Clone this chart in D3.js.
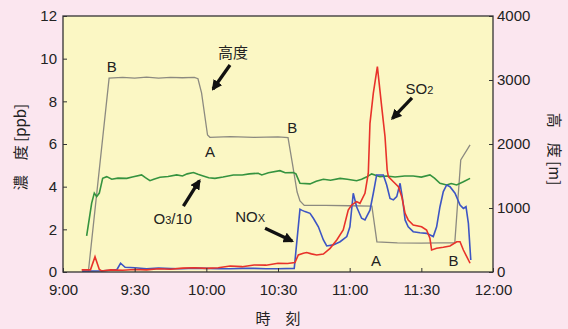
<!DOCTYPE html>
<html>
<head>
<meta charset="utf-8">
<script src="https://cdn.jsdelivr.net/npm/d3@7"></script>
<style>
  body { margin: 0; background: #fbe6ef; }
  svg { display: block; font-family: "Liberation Sans", Arial, sans-serif; }
</style>
</head>
<body>
<svg width="568" height="329"></svg>
<script>
// time = minutes after 9:00
var xTicks = [0, 30, 60, 90, 120, 150, 180];
var yLeftTicks = [0, 2, 4, 6, 8, 10, 12];
var yRightTicks = [0, 1000, 2000, 3000, 4000];

// altitude [m]
var altitude = [[10.6,0],[19.3,3030],[25,3040],[30,3030],[35,3045],[40,3030],[45,3040],[50,3035],[55,3040],[56.5,3020],
  [58,2800],[60.5,2140],[61.5,2105],[70,2115],[80,2105],[90,2110],[94.2,2100],[96,1700],[98,1250],[99.2,1110],[101,1040],
  [110,1040],[120,1035],[129.3,1030],[131.4,470],[140,455],[150,450],[158,455],[164,455],[166.5,1750],[170.4,1985]];

// O3/10 [ppb]
var o3 = [[9.9,1.69],[12,3.23],[13.1,3.7],[14.1,3.53],[15.2,3.7],[16.6,4.39],[18.3,4.47],[20.4,4.35],[23,4.4],[26.7,4.39],
  [29,4.45],[32.9,4.55],[34.5,4.42],[36.4,4.28],[38,4.35],[40.6,4.44],[44,4.48],[47.6,4.55],[50,4.5],[52,4.6],[54.6,4.66],
  [56.5,4.58],[58.7,4.5],[61,4.42],[63.6,4.39],[67,4.45],[71.3,4.55],[75,4.55],[78,4.6],[81.7,4.63],[83.2,4.55],[86,4.65],
  [90.8,4.75],[93,4.65],[96.4,4.66],[97.5,4.6],[99.2,4.16],[103.4,4.13],[106,4.25],[109,4.35],[112,4.3],[116,4.39],
  [119,4.35],[122.9,4.28],[125,4.35],[127,4.45],[129.2,4.6],[132.7,4.47],[135.5,4.5],[139,4.45],[143,4.5],[146.6,4.5],
  [150,4.45],[153.6,4.55],[155.5,4.4],[157.8,4.16],[160.6,4.08],[162.5,4.15],[164.8,4.08],[167.6,4.23],[170.4,4.39]];

// NOx [ppb]
var nox = [[8,0.04],[15,0.05],[20,0.08],[22.6,0.12],[24.1,0.41],[26,0.22],[30,0.2],[35,0.15],[40,0.18],[45,0.16],[50,0.15],
  [55,0.18],[60,0.17],[65,0.15],[70,0.15],[75,0.17],[80,0.17],[85,0.15],[90,0.15],[96.8,0.17],[99.2,2.94],[99.9,2.9],
  [101.3,2.83],[103.4,2.75],[104.8,2.52],[106.9,2.12],[109,1.5],[110.4,1.22],[113.1,1.27],[116,1.42],[118.8,1.66],
  [120.1,2.12],[121.5,3.69],[122.9,3.06],[125,2.52],[126.4,2.44],[128.5,2.9],[129.9,3.69],[131.3,4.55],[134.1,4.55],
  [135.5,4.08],[136.9,3.45],[138.3,3.38],[139.7,3.53],[141.1,4.16],[142.2,3.38],[143.2,2.44],[144.5,2.12],[146.6,1.89],
  [149.4,1.84],[152.2,1.81],[155,1.66],[156.4,2.12],[157.8,3.06],[159.2,3.77],[160.6,4.08],[162,4.0],[164.1,3.69],
  [166.2,3.14],[167.6,2.98],[168.7,3.06],[169.7,2.28],[170.7,0.56]];

// SO2 [ppb]
var so2 = [[7.8,0.1],[11.5,0.1],[13.4,0.72],[15.2,0.12],[16.2,0.05],[20,0.1],[25,0.08],[30,0.12],[35,0.1],[40,0.15],
  [45,0.13],[50,0.18],[55,0.2],[60,0.17],[65,0.2],[70,0.28],[75,0.25],[80,0.33],[85,0.32],[90,0.41],[94,0.4],[97.1,0.44],
  [98.5,0.8],[100.6,0.88],[102,0.91],[104,0.85],[106.2,0.8],[109,0.84],[111.8,1.11],[114.6,1.5],[117.3,1.97],[119.4,2.9],
  [120.8,3.14],[122.9,3.3],[124.3,3.22],[126.4,3.69],[127.8,4.63],[128.5,6.97],[129.9,8.38],[131.6,9.63],[133.4,7.75],
  [134.8,6.34],[135.7,4.78],[136.2,4.47],[138.3,4.23],[140.4,4.0],[141.8,3.53],[143.2,2.75],[144.5,2.44],[146.6,2.2],
  [150.1,2.12],[152.2,1.97],[153.6,1.58],[154.3,1.03],[156.4,1.11],[159.2,1.16],[162,1.22],[164.8,1.42],[166.2,1.42],
  [167.6,1.03],[169,0.72],[170.4,0.41]];

// text labels: [minutes, ppb, text]
var letters = [[20.4,9.63,"B"],[61.5,5.64,"A"],[96,6.78,"B"],[131,0.56,"A"],[163.5,0.56,"B"]];
// arrows: [t0, v0, t1, v1]
var arrows = [[69.9,9.7,62.8,8.58],[146.1,8.16,137.9,7.2],[50.4,3.09,57.1,4.28],[84.6,2.05,95.9,1.45]];

(function(){
var svg = d3.select("svg");
var pLeft = 63, pRight = 493, pTop = 16, pBottom = 272;
var base = new Date(2000, 0, 1, 9, 0).getTime();
function toDate(m) { return new Date(base + m * 60000); }

var x = d3.scaleTime().domain([toDate(0), toDate(180)]).range([pLeft, pRight]);
var y = d3.scaleLinear().domain([0, 12]).range([pBottom, pTop]);
var y2 = d3.scaleLinear().domain([0, 4000]).range([pBottom, pTop]);

svg.append("rect").attr("x", pLeft).attr("y", pTop).attr("width", pRight - pLeft).attr("height", pBottom - pTop)
  .attr("fill", "#fbf7c4");

var line = d3.line().x(function(d){ return x(toDate(d[0])); }).y(function(d){ return y(d[1]); });
var line2 = d3.line().x(function(d){ return x(toDate(d[0])); }).y(function(d){ return y2(d[1]); });

svg.append("path").datum(altitude).attr("d", line2).attr("fill", "none").attr("stroke", "#8c8a80").attr("stroke-width", 1.3);
svg.append("path").datum(o3).attr("d", line).attr("fill", "none").attr("stroke", "#35933f").attr("stroke-width", 1.6);
svg.append("path").datum(nox).attr("d", line).attr("fill", "none").attr("stroke", "#3d55c4").attr("stroke-width", 1.6);
svg.append("path").datum(so2).attr("d", line).attr("fill", "none").attr("stroke", "#e8322a").attr("stroke-width", 1.6);

// axes
var ax = svg.append("g").attr("transform", "translate(0," + pBottom + ")")
  .call(d3.axisBottom(x).tickValues(xTicks.map(toDate)).tickFormat(d3.timeFormat("%-H:%M")).tickSizeInner(-4).tickSizeOuter(0).tickPadding(12));
var ay = svg.append("g").attr("transform", "translate(" + pLeft + ",0)")
  .call(d3.axisLeft(y).tickValues(yLeftTicks).tickSizeInner(-4).tickSizeOuter(0).tickPadding(6));
var ay2 = svg.append("g").attr("transform", "translate(" + pRight + ",0)")
  .call(d3.axisRight(y2).tickValues(yRightTicks).tickFormat(d3.format("d")).tickSizeInner(-4).tickSizeOuter(0).tickPadding(4));
[ax, ay, ay2].forEach(function(g){
  g.select(".domain").remove();
  g.selectAll("line").attr("stroke", "#333");
  g.selectAll("text").attr("font-size", 15).attr("fill", "#222").attr("font-family", "Liberation Sans, Arial, sans-serif");
});

svg.append("rect").attr("x", pLeft).attr("y", pTop).attr("width", pRight - pLeft).attr("height", pBottom - pTop)
  .attr("fill", "none").attr("stroke", "#333").attr("stroke-width", 1.3);

// axis titles
svg.append("text").attr("x", 278).attr("y", 324).attr("text-anchor", "middle").attr("font-size", 15).attr("fill", "#222")
  .style("font-family", "Noto Sans CJK JP").text("時　刻");
svg.append("text").attr("transform", "translate(26,147) rotate(-90)").attr("text-anchor", "middle").attr("font-size", 15)
  .attr("fill", "#222").style("font-family", "Noto Sans CJK JP").text("濃　度 [ppb]");
svg.append("text").attr("transform", "translate(549,149) rotate(90)").attr("text-anchor", "middle").attr("font-size", 15)
  .attr("fill", "#222").style("font-family", "Noto Sans CJK JP").text("高　度 [m]");

// letters
svg.selectAll("text.lt").data(letters).enter().append("text").attr("class", "lt")
  .attr("x", function(d){ return x(toDate(d[0])); }).attr("y", function(d){ return y(d[1]) + 5.5; })
  .attr("text-anchor", "middle").attr("font-size", 15).attr("fill", "#222").text(function(d){ return d[2]; });

function label(t, v, main, sub, tail, font) {
  var tx = svg.append("text").attr("x", x(toDate(t))).attr("y", y(v) + 5.5).attr("text-anchor", "middle")
    .attr("font-size", 15).attr("fill", "#222");
  if (font) tx.style("font-family", font);
  tx.append("tspan").text(main);
  if (sub) tx.append("tspan").attr("font-size", 11).text(sub);
  if (tail) tx.append("tspan").text(tail);
}
label(71.2, 10.3, "高度", null, null, "Noto Sans CJK JP");
label(149.2, 8.6, "SO", "2");
label(46, 2.52, "O", "3", "/10");
label(78.3, 2.59, "NO", "X");

// arrows
svg.append("defs").append("marker").attr("id", "ah").attr("viewBox", "0 0 10 10").attr("refX", 8).attr("refY", 5)
  .attr("markerWidth", 3.2).attr("markerHeight", 3.2).attr("orient", "auto")
  .append("path").attr("d", "M0,0L10,5L0,10z").attr("fill", "#111");
svg.selectAll("line.arr").data(arrows).enter().append("line").attr("class", "arr")
  .attr("x1", function(d){ return x(toDate(d[0])); }).attr("y1", function(d){ return y(d[1]); })
  .attr("x2", function(d){ return x(toDate(d[2])); }).attr("y2", function(d){ return y(d[3]); })
  .attr("stroke", "#111").attr("stroke-width", 3.3).attr("marker-end", "url(#ah)");
})();
</script>
</body>
</html>
